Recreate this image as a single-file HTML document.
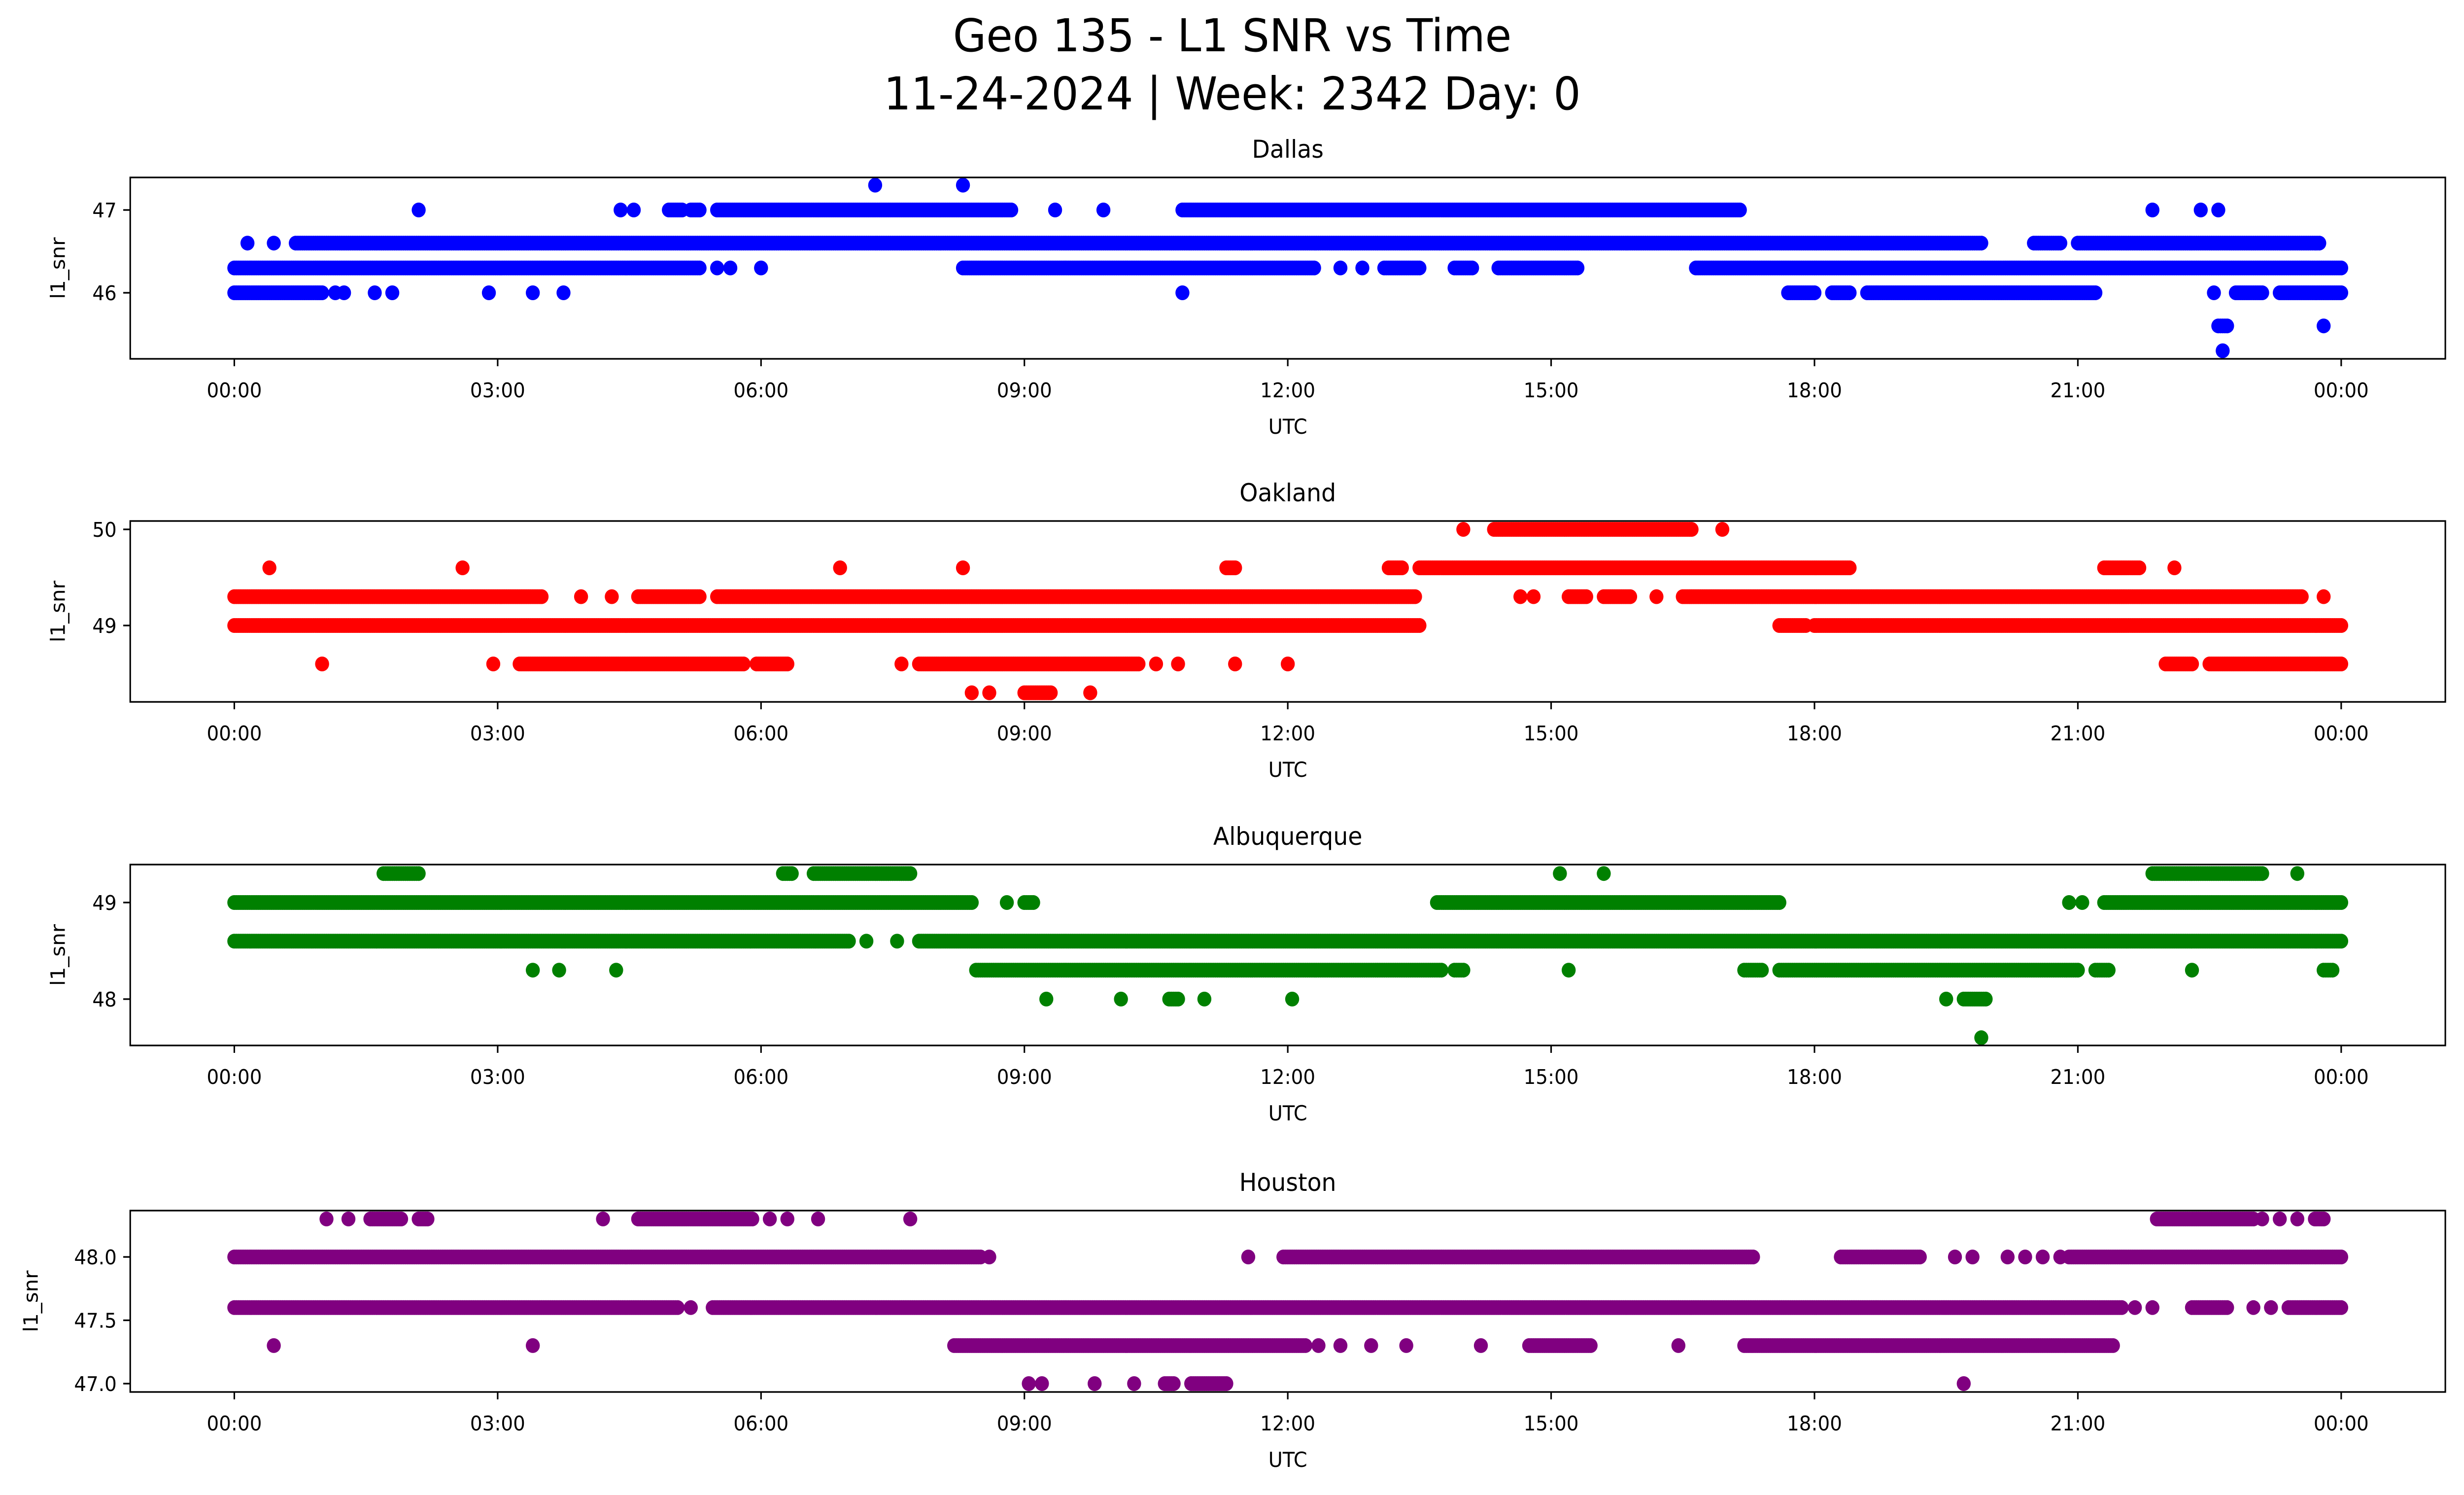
<!DOCTYPE html>
<html><head><meta charset="utf-8"><style>
html,body{margin:0;padding:0;background:#fff;width:100%;height:100%;overflow:hidden}
svg{display:block;position:absolute;left:0;top:0;width:100vw;height:100vh}
text{font-family:"DejaVu Sans","Liberation Sans",sans-serif;fill:#000}
</style></head><body>
<svg id="chart" viewBox="0 0 5279 3033" preserveAspectRatio="none" xmlns="http://www.w3.org/2000/svg">
<rect width="5279" height="3033" fill="#fff"/>
<text x="2640" y="104" font-size="92" text-anchor="middle">Geo 135 - L1 SNR vs Time</text>
<text x="2640" y="222" font-size="92" text-anchor="middle">11-24-2024 | Week: 2342 Day: 0</text>
</svg>
<script>
const stationNames = ["Dallas","Oakland","Albuquerque","Houston"];
const stationColors = ["#0000ff","#ff0000","#008000","#800080"];
const xTickHours = [0,3,6,9,12,15,18,21,24];
const xTickLabels = ["00:00","03:00","06:00","09:00","12:00","15:00","18:00","21:00","00:00"];
const dallasTicks = [46,47];
const oaklandTicks = [49,50];
const albuquerqueTicks = [48,49];
const houstonTicks = [47,47.5,48];
const houstonTickLabels = ["47.0","47.5","48.0"];
// runs: [snr level, start hour, end hour]
const dallasRuns = [
[47.3,7.3,7.3],[47.3,8.3,8.3],
[47.0,2.1,2.1],[47.0,4.4,4.4],[47.0,4.55,4.55],[47.0,4.95,5.1],[47.0,5.2,5.3],[47.0,5.5,8.85],[47.0,9.35,9.35],[47.0,9.9,9.9],[47.0,10.8,17.15],[47.0,21.85,21.85],[47.0,22.4,22.4],[47.0,22.6,22.6],
[46.6,0.15,0.15],[46.6,0.45,0.45],[46.6,0.7,19.9],[46.6,20.5,20.8],[46.6,21.0,23.75],
[46.3,0,5.3],[46.3,5.5,5.5],[46.3,5.65,5.65],[46.3,6.0,6.0],[46.3,8.3,12.3],[46.3,12.6,12.6],[46.3,12.85,12.85],[46.3,13.1,13.5],[46.3,13.9,14.1],[46.3,14.4,15.3],[46.3,16.65,24],
[46.0,0,1.0],[46.0,1.15,1.15],[46.0,1.25,1.25],[46.0,1.6,1.6],[46.0,1.8,1.8],[46.0,2.9,2.9],[46.0,3.4,3.4],[46.0,3.75,3.75],[46.0,10.8,10.8],[46.0,17.7,18.0],[46.0,18.2,18.4],[46.0,18.6,21.2],[46.0,22.55,22.55],[46.0,22.8,23.1],[46.0,23.3,24],
[45.6,22.6,22.7],[45.6,23.8,23.8],[45.3,22.65,22.65]
];
const oaklandRuns = [
[50.0,14.0,14.0],[50.0,14.35,16.6],[50.0,16.95,16.95],
[49.6,0.4,0.4],[49.6,2.6,2.6],[49.6,6.9,6.9],[49.6,8.3,8.3],[49.6,11.3,11.4],[49.6,13.15,13.3],[49.6,13.5,18.4],[49.6,21.3,21.7],[49.6,22.1,22.1],
[49.3,0,3.5],[49.3,3.95,3.95],[49.3,4.3,4.3],[49.3,4.6,5.3],[49.3,5.5,13.45],[49.3,14.65,14.65],[49.3,14.8,14.8],[49.3,15.2,15.4],[49.3,15.6,15.9],[49.3,16.2,16.2],[49.3,16.5,23.55],[49.3,23.8,23.8],
[49.0,0,13.5],[49.0,17.6,17.9],[49.0,18.0,24],
[48.6,1.0,1.0],[48.6,2.95,2.95],[48.6,3.25,5.8],[48.6,5.95,6.3],[48.6,7.6,7.6],[48.6,7.8,10.3],[48.6,10.5,10.5],[48.6,10.75,10.75],[48.6,11.4,11.4],[48.6,12.0,12.0],[48.6,22.0,22.3],[48.6,22.5,24],
[48.3,8.4,8.4],[48.3,8.6,8.6],[48.3,9.0,9.3],[48.3,9.75,9.75]
];
const albuquerqueRuns = [
[49.3,1.7,2.1],[49.3,6.25,6.35],[49.3,6.6,7.7],[49.3,15.1,15.1],[49.3,15.6,15.6],[49.3,21.85,23.1],[49.3,23.5,23.5],
[49.0,0,8.4],[49.0,8.8,8.8],[49.0,9.0,9.1],[49.0,13.7,17.6],[49.0,20.9,20.9],[49.0,21.05,21.05],[49.0,21.3,24],
[48.6,0,7.0],[48.6,7.2,7.2],[48.6,7.55,7.55],[48.6,7.8,24],
[48.3,3.4,3.4],[48.3,3.7,3.7],[48.3,4.35,4.35],[48.3,8.45,13.75],[48.3,13.9,14.0],[48.3,15.2,15.2],[48.3,17.2,17.4],[48.3,17.6,21.0],[48.3,21.2,21.35],[48.3,22.3,22.3],[48.3,23.8,23.9],
[48.0,9.25,9.25],[48.0,10.1,10.1],[48.0,10.65,10.75],[48.0,11.05,11.05],[48.0,12.05,12.05],[48.0,19.5,19.5],[48.0,19.7,19.95],
[47.6,19.9,19.9]
];
const houstonRuns = [
[48.3,1.05,1.05],[48.3,1.3,1.3],[48.3,1.55,1.9],[48.3,2.1,2.2],[48.3,4.2,4.2],[48.3,4.6,5.9],[48.3,6.1,6.1],[48.3,6.3,6.3],[48.3,6.65,6.65],[48.3,7.7,7.7],[48.3,21.9,23.0],[48.3,23.1,23.1],[48.3,23.3,23.3],[48.3,23.5,23.5],[48.3,23.7,23.8],
[48.0,0,8.5],[48.0,8.6,8.6],[48.0,11.55,11.55],[48.0,11.95,17.3],[48.0,18.3,19.2],[48.0,19.6,19.6],[48.0,19.8,19.8],[48.0,20.2,20.2],[48.0,20.4,20.4],[48.0,20.6,20.6],[48.0,20.8,20.8],[48.0,20.9,24],
[47.6,0,5.05],[47.6,5.2,5.2],[47.6,5.45,21.5],[47.6,21.65,21.65],[47.6,21.85,21.85],[47.6,22.3,22.7],[47.6,23.0,23.0],[47.6,23.2,23.2],[47.6,23.4,24],
[47.3,0.45,0.45],[47.3,3.4,3.4],[47.3,8.2,12.2],[47.3,12.35,12.35],[47.3,12.6,12.6],[47.3,12.95,12.95],[47.3,13.35,13.35],[47.3,14.2,14.2],[47.3,14.75,15.45],[47.3,16.45,16.45],[47.3,17.2,21.4],
[47.0,9.05,9.05],[47.0,9.2,9.2],[47.0,9.8,9.8],[47.0,10.25,10.25],[47.0,10.6,10.7],[47.0,10.9,11.3],[47.0,19.7,19.7]
];

const NS = "http://www.w3.org/2000/svg";
const svg = document.getElementById("chart");
function mk(tag, attrs, parent){const e=document.createElementNS(NS,tag);for(const k in attrs)e.setAttribute(k,attrs[k]);(parent||svg).appendChild(e);return e;}
const LEFT=279, RIGHT=5239, X0=502, XPH=188.08;
function xScale(h){return X0+h*XPH;}
const panels = [
 {runs:dallasRuns, ticks:dallasTicks, labels:["46","47"], top:360, bottom:728, ymin:45.2024, ymax:47.393, ylx:125},
 {runs:oaklandRuns, ticks:oaklandTicks, labels:["49","50"], top:1057, bottom:1424, ymin:48.205, ymax:50.087, ylx:125},
 {runs:albuquerqueRuns, ticks:albuquerqueTicks, labels:["48","49"], top:1754, bottom:2121, ymin:47.52, ymax:49.393, ylx:125},
 {runs:houstonRuns, ticks:houstonTicks, labels:houstonTickLabels, top:2456, bottom:2824, ymin:46.934, ymax:48.366, ylx:67}
];
panels.forEach((p,i)=>{
  const g = mk("g",{});
  
  
  const yScale = v => p.bottom - (v-p.ymin)/(p.ymax-p.ymin)*(p.bottom-p.top);
  const t = mk("text",{x:(LEFT+RIGHT)/2, y:p.top-40, "font-size":"50", "text-anchor":"middle"}, g);
  t.textContent = stationNames[i];
  
  
  const pts = mk("g",{fill:stationColors[i]}, g);
  
  
  p.runs.forEach(r=>{
    const n = Math.max(0, Math.round((r[2]-r[1])/0.025));
    for(let k=0;k<=n;k++){
      const h = n===0 ? r[1] : r[1]+(r[2]-r[1])*k/n;
      const c = mk("circle",{cx:xScale(h).toFixed(1), cy:yScale(r[0]).toFixed(1), r:15}, pts);
      
      
    }
  });
  const frame = mk("rect",{x:LEFT,y:p.top,width:RIGHT-LEFT,height:p.bottom-p.top,fill:"none",stroke:"#000","stroke-width":3.3}, g);
  
  
  xTickHours.forEach((h,j)=>{
    const x = xScale(h);
    const tk = mk("line",{x1:x,x2:x,y1:p.bottom,y2:p.bottom+15,stroke:"#000","stroke-width":3.3}, g);
    
    
    const tl = mk("text",{x:x,y:p.bottom+78,"font-size":"41","text-anchor":"middle"}, g);
    tl.textContent = xTickLabels[j];
    
    
  });
  p.ticks.forEach((v,j)=>{
    const y = yScale(v);
    const tk = mk("line",{x1:LEFT-15,x2:LEFT,y1:y,y2:y,stroke:"#000","stroke-width":3.3}, g);
    
    
    const tl = mk("text",{x:LEFT-29,y:y+15,"font-size":"41","text-anchor":"end"}, g);
    tl.textContent = p.labels[j];
    
    
  });
  const xl = mk("text",{x:(LEFT+RIGHT)/2,y:p.bottom+152,"font-size":"42","text-anchor":"middle"}, g);
  xl.textContent = "UTC";
  
  
  const cy=(p.top+p.bottom)/2;
  const yl = mk("text",{x:p.ylx+14,y:cy,"font-size":"42","text-anchor":"middle",transform:`rotate(-90 ${p.ylx+14} ${cy})`}, g);
  yl.textContent = "l1_snr";
  
  
});
</script>
</body></html>
